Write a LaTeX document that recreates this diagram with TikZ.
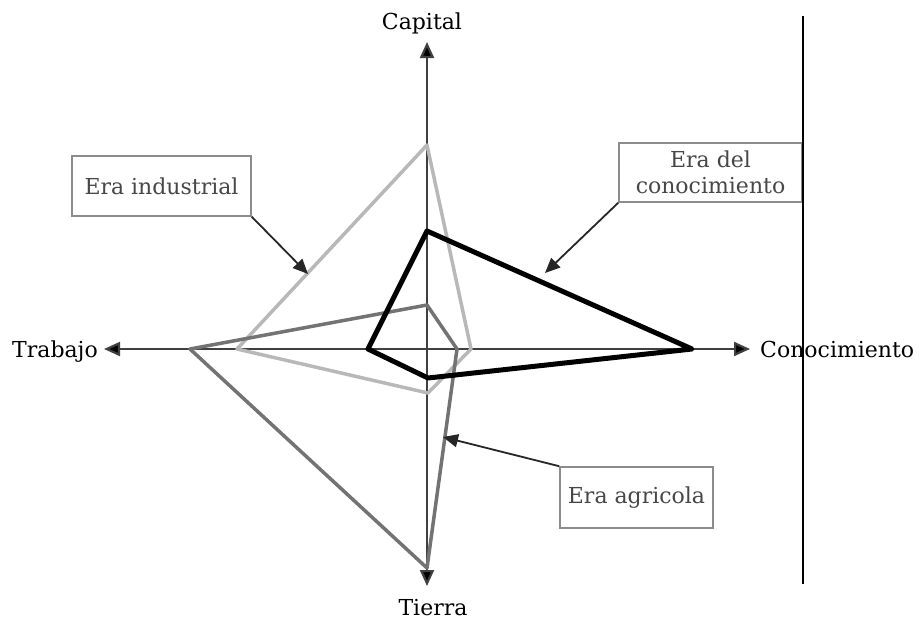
\documentclass[tikz,border=0pt]{standalone}
\usepackage{fontspec}
\setmainfont{DejaVu Serif}
\usetikzlibrary{arrows.meta}
\definecolor{axisgray}{gray}{0.25}
\definecolor{boxgray}{gray}{0.55}
\definecolor{boxtext}{gray}{0.28}
\definecolor{indgray}{gray}{0.72}
\definecolor{agrgray}{gray}{0.45}
\begin{document}
\begin{tikzpicture}[x=1pt,y=-1pt,
  lbl/.style={font=\fontsize{22}{26}\selectfont, inner sep=0pt},
  axis/.style={draw=axisgray, line width=2.2pt, -{Triangle[length=16pt,width=14pt,fill=black]}},
  erabox/.style={draw=boxgray, line width=1.6pt, fill=white, text=boxtext,
    font=\fontsize{22}{26}\selectfont, inner sep=3pt, align=center},
  callout/.style={draw=black!85, line width=1.8pt, -{Triangle[length=15pt,width=13pt]}},
  industrial/.style={draw=indgray, line width=3.5pt, line join=round},
  agricola/.style={draw=agrgray, line width=3.5pt, line join=round},
  knowledge/.style={draw=black, line width=5pt, line join=round},
  divider/.style={draw=black, line width=2pt}]
\useasboundingbox (0,0) rectangle (923,619);

% axes
\coordinate (O) at (427,349);
\coordinate (capTip) at (427,42);
\coordinate (tieTip) at (427,586);
\coordinate (traTip) at (104,349);
\coordinate (conTip) at (750,349);
\draw[axis] (O) -- (capTip);
\draw[axis] (O) -- (tieTip);
\draw[axis] (O) -- (traTip);
\draw[axis] (O) -- (conTip);

\node[lbl, anchor=base] (cap) at (422,29) {Capital};
\node[lbl, anchor=base] (tie) at (433,615) {Tierra};
\node[lbl, anchor=base east] (tra) at (98,357) {Trabajo};
\node[lbl, anchor=base west] (cono) at (760,357) {Conocimiento};

% industrial era
\coordinate (i1) at (427,145);
\coordinate (i2) at (471,349);
\coordinate (i3) at (428,393);
\coordinate (i4) at (237,349);
\draw[industrial] (i1) -- (i2) -- (i3) -- (i4) -- cycle;

% agricultural era
\coordinate (a1) at (427,305);
\coordinate (a2) at (457,349);
\coordinate (a3) at (427,568);
\coordinate (a4) at (190,349);
\draw[agricola] (a1) -- (a2) -- (a3) -- (a4) -- cycle;

% knowledge era
\coordinate (k1) at (427,231);
\coordinate (k2) at (692,349);
\coordinate (k3) at (428,378);
\coordinate (k4) at (368,349);
\draw[knowledge] (k1) -- (k2) -- (k3) -- (k4) -- cycle;

% labelled boxes with arrows
\node[erabox, minimum width=179pt, minimum height=60pt] (ind) at (161.5,186) {Era industrial};
\node[erabox, minimum width=183pt, minimum height=59pt] (con) at (710.5,172.5) {Era del\\conocimiento};
\node[erabox, minimum width=153pt, minimum height=61pt] (agr) at (636.5,497.5) {Era agricola};

\coordinate (indArrow) at (308,274);
\coordinate (conArrow) at (545,273);
\coordinate (agrArrow) at (443,437);
\draw[callout] (ind.south east) -- (indArrow);
\draw[callout] (con.south west) -- (conArrow);
\draw[callout] (agr.north west) -- (agrArrow);

% vertical divider on the right
\coordinate (divTop) at (803,16);
\coordinate (divBot) at (803,584);
\draw[divider] (divTop) -- (divBot);
\end{tikzpicture}
\end{document}
